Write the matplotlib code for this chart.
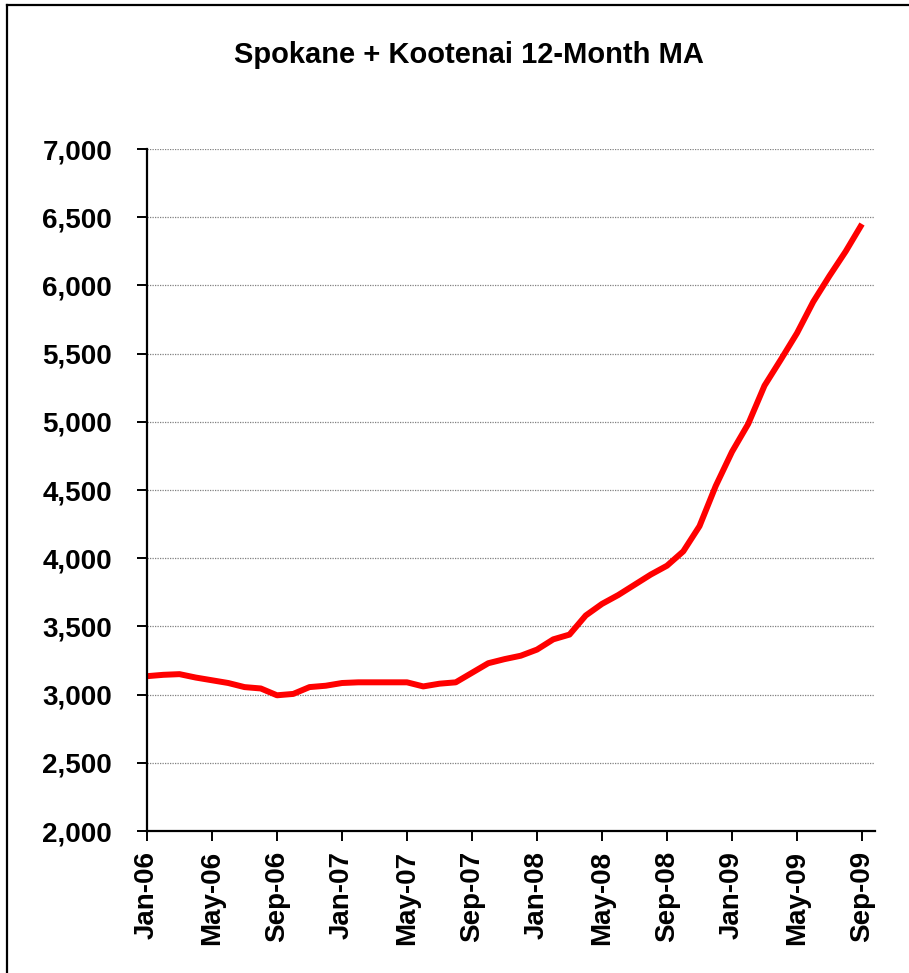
import matplotlib
matplotlib.use("Agg")
import matplotlib.pyplot as plt
from matplotlib.lines import Line2D
from matplotlib.ticker import FuncFormatter

# 12-month moving average, Jan-06 .. Sep-09
months = ["Jan-06", "Feb-06", "Mar-06", "Apr-06", "May-06", "Jun-06", "Jul-06", "Aug-06",
          "Sep-06", "Oct-06", "Nov-06", "Dec-06",
          "Jan-07", "Feb-07", "Mar-07", "Apr-07", "May-07", "Jun-07", "Jul-07", "Aug-07",
          "Sep-07", "Oct-07", "Nov-07", "Dec-07",
          "Jan-08", "Feb-08", "Mar-08", "Apr-08", "May-08", "Jun-08", "Jul-08", "Aug-08",
          "Sep-08", "Oct-08", "Nov-08", "Dec-08",
          "Jan-09", "Feb-09", "Mar-09", "Apr-09", "May-09", "Jun-09", "Jul-09", "Aug-09",
          "Sep-09"]
ma_values = [3135, 3145, 3150, 3125, 3105, 3085, 3055, 3045, 2995, 3005, 3055, 3065,
             3085, 3090, 3090, 3090, 3090, 3060, 3080, 3090, 3160, 3230, 3260, 3285,
             3330, 3405, 3440, 3580, 3665, 3730, 3805, 3880, 3945, 4050, 4235, 4530,
             4780, 4985, 5265, 5455, 5650, 5880, 6070, 6250, 6450]
y_ticks = [2000, 2500, 3000, 3500, 4000, 4500, 5000, 5500, 6000, 6500, 7000]

plt.rcParams['font.family'] = ['Liberation Sans', 'DejaVu Sans']

fig = plt.figure(figsize=(9.09, 9.73), dpi=100)
W, H = 909, 973
ax = fig.add_axes([147 / W, 1 - 831 / H, (875 - 147) / W, (831 - 149) / H])

x = list(range(len(months)))
ax.plot(x, ma_values, color='#ff0000', linewidth=4.3, solid_joinstyle='round',
        solid_capstyle='butt')

ax.set_xlim(0, 44.8)
ax.set_ylim(2000, 7000)
ax.set_yticks(y_ticks)
ax.yaxis.set_major_formatter(FuncFormatter(lambda v, p: '{:,}'.format(int(v))))
ax.set_xticks(x[::4])
ax.set_xticklabels(months[::4], rotation=90, fontsize=20, fontweight='bold')
for lbl in ax.get_yticklabels():
    lbl.set_fontsize(20)
    lbl.set_fontweight('bold')

ax.grid(axis='y', color='#808080', linestyle=(0, (1, 1)), linewidth=0.9)
ax.set_axisbelow(True)
for side in ['top', 'right']:
    ax.spines[side].set_visible(False)
for side in ['left', 'bottom']:
    ax.spines[side].set_linewidth(1.6)
ax.tick_params(axis='both', direction='out', length=7.2, width=1.4, colors='black')
ax.tick_params(axis='y', pad=18)
ax.tick_params(axis='x', pad=7)

fig.text(469 / W, 1 - 55 / H, 'Spokane + Kootenai 12-Month MA', ha='center', va='center',
         fontsize=21, fontweight='bold')

# chart area border (left and top edges, the rest runs off the picture)
fig.add_artist(Line2D([7 / W, 7 / W], [0, 1 - 5 / H], transform=fig.transFigure,
                      color='black', linewidth=1.6))
fig.add_artist(Line2D([7 / W, 1], [1 - 5 / H, 1 - 5 / H], transform=fig.transFigure,
                      color='black', linewidth=1.6))

fig.savefig('out.png', dpi=100)
